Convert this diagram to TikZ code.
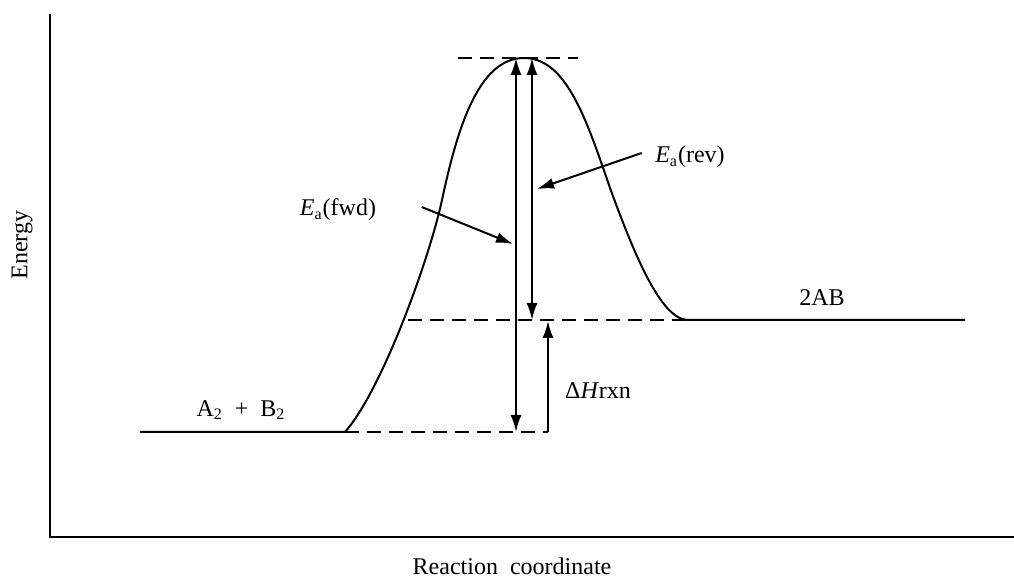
\documentclass[tikz,border=0pt]{standalone}
\usepackage{fontspec}
\setmainfont{Liberation Serif}
\usetikzlibrary{arrows.meta}

\begin{document}
\begin{tikzpicture}[x=0.5pt,y=0.5pt,line width=1pt,>={Latex[length=8.5pt,width=5.5pt]},
  every node/.style={font=\fontsize{12}{14}\selectfont},
  level/.style={dash pattern=on 7pt off 4pt}]
\useasboundingbox (0,0) rectangle (1014,578);
\coordinate (O) at (50,41);
\coordinate (ytop) at (50,564);
\coordinate (xend) at (1014,41);
\draw[line width=1.2pt] (ytop)--(O)--(xend);
\node[rotate=90] (energy) at (22,333) {Energy};
\node (rxn) at (512,12) {Reaction\ \ coordinate};
% levels and curve
\coordinate (r0) at (140,146);
\coordinate (r1) at (345,146);
\coordinate (r2) at (548,146);
\coordinate (ts) at (524,520);
\coordinate (p0) at (688,258);
\coordinate (p1) at (965,258);
\draw (r0)--(r1) .. controls (382,188) and (429,318) .. (442,378)
  .. controls (457,448) and (478,520) .. (ts)
  .. controls (566,520) and (586,460) .. (610,390)
  .. controls (632,330) and (660,258) .. (p0)--(p1);
\draw[level] (458,520)--(578,520);
\draw[level] (408,258)--(p0);
\draw[level] (r1)--(r2);
% arrows
\coordinate (ftop) at (516,520);
\coordinate (fbot) at (516,146);
\coordinate (rtop) at (532,520);
\coordinate (rbot) at (532,258);
\coordinate (htop) at (548,257);
\draw[<->] (ftop)--(fbot);
\draw[<->] (rtop)--(rbot);
\draw[->] (r2)--(htop);
\node (eafwd) at (338,368) {\textit{E}\textsubscript{a}(fwd)};
\node (earev) at (690,421) {\textit{E}\textsubscript{a}(rev)};
\node (dh) at (598,187) {Δ\textit{H}rxn};
\node (prod) at (822,280) {2AB};
\node (reac) at (241,168) {A\textsubscript{2}\ \ +\ \ B\textsubscript{2}};
\coordinate (fp) at (513,334);
\coordinate (rp) at (537,389);
\draw[->] (eafwd.east)++(38,3) -- (fp);
\draw[->] (earev.west)++(-6,4) -- (rp);
\end{tikzpicture}
\end{document}
